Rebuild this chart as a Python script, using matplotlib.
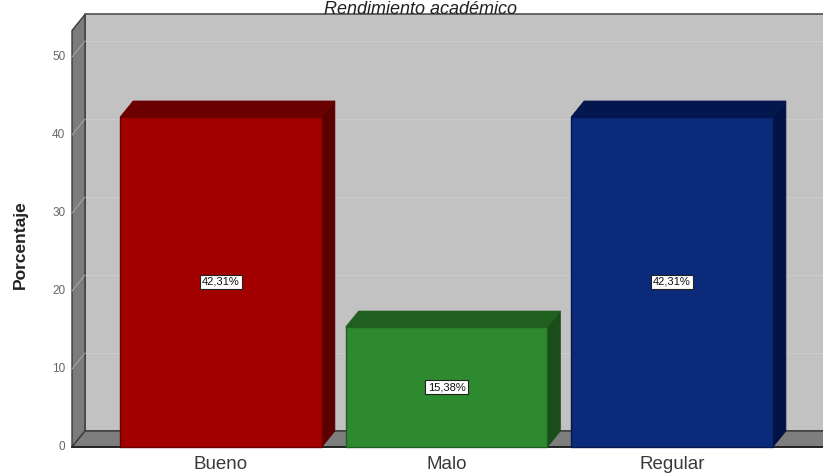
import matplotlib
matplotlib.use("Agg")
import matplotlib.pyplot as plt
from matplotlib.patches import Polygon, Rectangle

categories = ["Bueno", "Malo", "Regular"]
values = [42.31, 15.38, 42.31]
labels = ["42,31%", "15,38%", "42,31%"]
front_colors = ["#a30000", "#2e8a2e", "#0b2a7a"]
top_colors = ["#6b0000", "#1f5f1f", "#03164d"]
side_colors = ["#5a0000", "#1a4d1a", "#021245"]
yticks = [0, 10, 20, 30, 40, 50]
title = "Rendimiento académico"
ylabel = "Porcentaje"

W, H = 823, 476
fig = plt.figure(figsize=(W / 100, H / 100), dpi=100)
ax = fig.add_axes([0, 0, 1, 1])
ax.set_axis_off()

# scale: category spacing / percent scale
px_per_cat = 225.5
px_per_pct = 7.8
x0_px, y0_px = 221, 447
ax.set_xlim(-x0_px / px_per_cat, (W - x0_px) / px_per_cat)
ax.set_ylim(-(H - y0_px) / px_per_pct, y0_px / px_per_pct)

dx = 13 / px_per_cat
dy = 16 / px_per_pct
xl = (72 - x0_px) / px_per_cat
xr = (W + 20 - x0_px) / px_per_cat
ytop = 53.4
bw = 0.895

# back wall
ax.add_patch(Polygon([(xl + dx, dy), (xr, dy), (xr, ytop + dy), (xl + dx, ytop + dy)],
                     closed=True, fc="#c2c2c2", ec="#505050", lw=1.2, zorder=1))
# gridlines on back wall
for t in yticks[1:]:
    ax.plot([xl + dx, xr], [t + dy, t + dy], color="#cbcbcb", lw=1.0, zorder=2)
# left wall
ax.add_patch(Polygon([(xl, 0), (xl + dx, dy), (xl + dx, ytop + dy), (xl, ytop)],
                     closed=True, fc="#7c7c7c", ec="#3a3a3a", lw=1.0, zorder=3))
for t in yticks[1:]:
    ax.plot([xl, xl + dx], [t, t + dy], color="#a8a8a8", lw=0.7, zorder=4)
# floor
ax.add_patch(Polygon([(xl, 0), (xr, 0), (xr + dx, dy), (xl + dx, dy)],
                     closed=True, fc="#7e7e7e", ec="#3a3a3a", lw=1.0, zorder=3))
ax.plot([xl, xr], [0, 0], color="#202020", lw=1.3, zorder=5)

# bars
for i, (v, fc, tc, sc) in enumerate(zip(values, front_colors, top_colors, side_colors)):
    l, r = i - bw / 2, i + bw / 2
    ax.add_patch(Polygon([(r, 0), (r + dx, dy), (r + dx, v + dy), (r, v)],
                         closed=True, fc=sc, ec=sc, lw=0.5, zorder=6))
    ax.add_patch(Polygon([(l, v), (r, v), (r + dx, v + dy), (l + dx, v + dy)],
                         closed=True, fc=tc, ec=tc, lw=0.5, zorder=6))
    ax.add_patch(Rectangle((l, 0), bw, v, fc=fc, ec=tc, lw=1.0, zorder=7))
    ax.text(i, v / 2, labels[i], ha="center", va="center", fontsize=8,
            color="#111111", zorder=9, family="Liberation Sans",
            bbox=dict(boxstyle="square,pad=0.2", fc="white", ec="#222222", lw=0.8))
    ax.text(i, -2.3, categories[i], ha="center", va="center", fontsize=13.5,
            color="#3a3a3a", family="Liberation Sans")

# y tick labels
for t in yticks:
    ax.text(xl - 0.03, t, str(t), ha="right", va="center", fontsize=8.5,
            color="#666666", family="Liberation Sans")

ax.text(-0.89, 26.0, ylabel, rotation=90, ha="center", va="center",
        fontsize=12.5, fontweight="bold", color="#222222", family="Liberation Sans")
fig.text(420 / W, 1 - 1 / H, title, ha="center", va="top", fontsize=13,
         style="italic", color="#222222", family="Liberation Sans", zorder=10)

fig.savefig("out.png", dpi=100, facecolor="white")
